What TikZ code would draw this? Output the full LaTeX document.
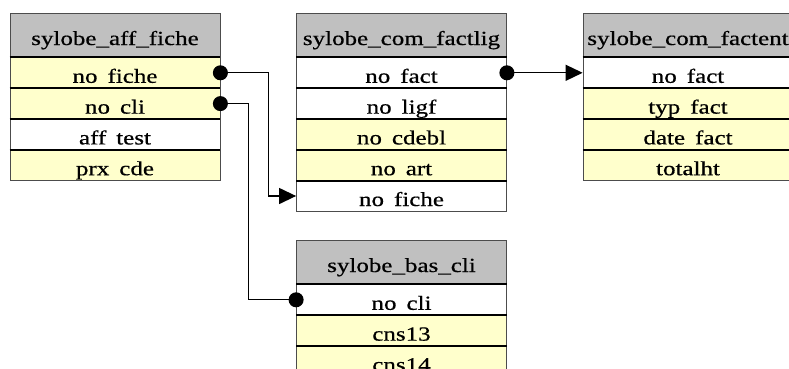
\documentclass[tikz,border=0pt]{standalone}
\usepackage{fontspec}
\newfontfamily\tabfont[FakeStretch=1.25, FakeBold=0.6]{Liberation Serif}
\usetikzlibrary{positioning, arrows.meta}
\definecolor{headgray}{HTML}{C0C0C0}
\definecolor{rowyellow}{HTML}{FFFFCC}
\tikzset{
  field/.style={rectangle, draw=black!70, line width=0.8pt, minimum width=210pt,
                minimum height=30pt, inner sep=0pt, text height=21pt, text depth=1pt,
                font=\tabfont\fontsize{20}{22}\selectfont},
  tabhead/.style={field, fill=headgray, minimum height=44pt},
  keyfield/.style={field, fill=white},
  attrfield/.style={field, fill=rowyellow},
  rowsep/.style={line width=2pt, black},
  link/.style={draw=black, line width=1.3pt, shorten <=-7.5pt},
  arrowlink/.style={link, {Circle[length=15pt]}-{Triangle[length=17pt, width=16pt]}},
  dotlink/.style={link, {Circle[length=15pt]}-{Circle[length=15pt]}, shorten >=-7.5pt},
}

\begin{document}
\begin{tikzpicture}[x=1pt, y=-1pt, node distance=0pt]

  \clip (0,0) rectangle (789,368);
  \fill[white] (0,0) rectangle (789,368);

  % sylobe_aff_fiche
  \node[tabhead] at (115,35) (aff) {sylobe\_aff\_fiche};
  \node[attrfield, below=of aff] (aff1) {no\enspace fiche};
  \node[attrfield, below=of aff1] (aff2) {no\enspace cli};
  \node[keyfield, below=of aff2] (aff3) {aff\enspace test};
  \node[attrfield, below=of aff3] (aff4) {prx\enspace cde};

  % sylobe_com_factlig
  \node[tabhead] at (401.5,35) (lig) {sylobe\_com\_factlig};
  \node[keyfield, below=of lig] (lig1) {no\enspace fact};
  \node[keyfield, below=of lig1] (lig2) {no\enspace ligf};
  \node[attrfield, below=of lig2] (lig3) {no\enspace cdebl};
  \node[attrfield, below=of lig3] (lig4) {no\enspace art};
  \node[keyfield, below=of lig4] (lig5) {no\enspace fiche};

  % sylobe_com_factent
  \node[tabhead] at (688,35) (ent) {sylobe\_com\_factent};
  \node[keyfield, below=of ent] (ent1) {no\enspace fact};
  \node[attrfield, below=of ent1] (ent2) {typ\enspace fact};
  \node[attrfield, below=of ent2] (ent3) {date\enspace fact};
  \node[attrfield, below=of ent3] (ent4) {totalht};

  % sylobe_bas_cli
  \node[tabhead] at (401.5,262) (cli) {sylobe\_bas\_cli};
  \node[keyfield, below=of cli] (cli1) {no\enspace cli};
  \node[attrfield, below=of cli1] (cli2) {cns13};
  \node[attrfield, below=of cli2] (cli3) {cns14};

  % thick lines between the rows
  \foreach \r in {aff1,aff2,aff3,aff4,lig1,lig2,lig3,lig4,lig5,ent1,ent2,ent3,ent4,cli1,cli2,cli3}
    \draw[rowsep] (\r.north west) -- (\r.north east);

  % links
  \draw[arrowlink] (aff1.east) -- ++(48,0) |- (lig5.west);
  \draw[dotlink] (aff2.east) -- ++(28,0) |- (cli1.west);
  \draw[arrowlink] (lig1.east) -- (ent1.west);

\end{tikzpicture}
\end{document}
